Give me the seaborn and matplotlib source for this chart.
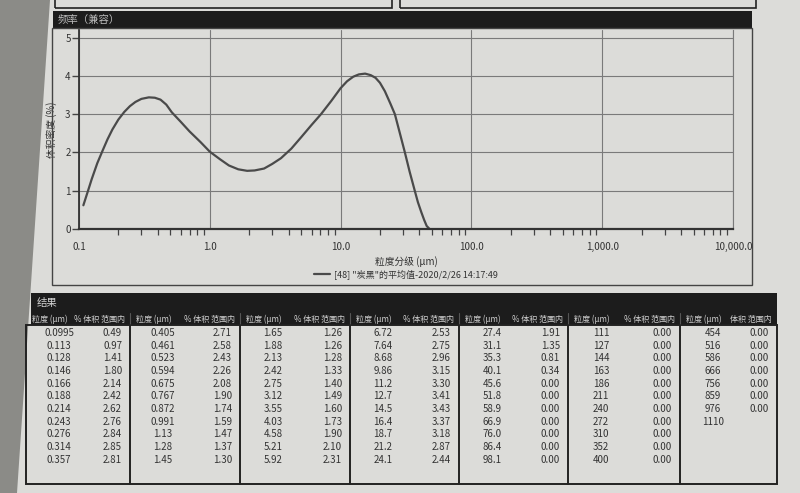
import matplotlib
matplotlib.use("Agg")
from matplotlib import pyplot as plt
from matplotlib.patches import Rectangle, Polygon
from matplotlib.ticker import FixedLocator, NullFormatter
import seaborn as sns
import pandas as pd

# frequency curve (size in um, volume density in %)
curve_size = [0.108, 0.116, 0.125, 0.138, 0.152, 0.165, 0.18, 0.2, 0.222, 0.245, 0.27, 0.3,
              0.342, 0.38, 0.42, 0.465, 0.512, 0.6, 0.7, 0.85,
              1.0, 1.2, 1.4, 1.65, 1.93, 2.2, 2.6, 3.0, 3.5, 4.2, 5.0, 6.0, 7.08, 8.5,
              10.0, 11.2, 12.5, 13.8, 15.4, 17.0, 18.5, 20.0, 21.8, 24.0, 26.0, 28.3,
              30.9, 33.7, 36.9, 39.0, 41.4, 43.5, 45.5, 47.9]
curve_density = [0.62, 0.95, 1.30, 1.72, 2.06, 2.34, 2.60, 2.86, 3.06, 3.21, 3.32, 3.40,
                 3.44, 3.43, 3.38, 3.25, 3.05, 2.80, 2.55, 2.27,
                 2.02, 1.82, 1.66, 1.56, 1.52, 1.53, 1.58, 1.70, 1.85, 2.10, 2.40, 2.72, 3.00, 3.35,
                 3.68, 3.86, 3.98, 4.04, 4.06, 4.02, 3.95, 3.82, 3.60, 3.28, 3.00, 2.52,
                 2.02, 1.50, 1.00, 0.70, 0.44, 0.24, 0.08, 0.0]

x_ticks = [0.1, 1.0, 10.0, 100.0, 1000.0, 10000.0]
x_tick_labels = ['0.1', '1.0', '10.0', '100.0', '1,000.0', '10,000.0']
y_ticks = [0, 1, 2, 3, 4, 5]

# result table
size_um = ['0.0995', '0.113', '0.128', '0.146', '0.166', '0.188', '0.214', '0.243', '0.276', '0.314', '0.357',
           '0.405', '0.461', '0.523', '0.594', '0.675', '0.767', '0.872', '0.991', '1.13', '1.28', '1.45',
           '1.65', '1.88', '2.13', '2.42', '2.75', '3.12', '3.55', '4.03', '4.58', '5.21', '5.92',
           '6.72', '7.64', '8.68', '9.86', '11.2', '12.7', '14.5', '16.4', '18.7', '21.2', '24.1',
           '27.4', '31.1', '35.3', '40.1', '45.6', '51.8', '58.9', '66.9', '76.0', '86.4', '98.1',
           '111', '127', '144', '163', '186', '211', '240', '272', '310', '352', '400',
           '454', '516', '586', '666', '756', '859', '976', '1110']
vol_pct = ['0.49', '0.97', '1.41', '1.80', '2.14', '2.42', '2.62', '2.76', '2.84', '2.85', '2.81',
           '2.71', '2.58', '2.43', '2.26', '2.08', '1.90', '1.74', '1.59', '1.47', '1.37', '1.30',
           '1.26', '1.26', '1.28', '1.33', '1.40', '1.49', '1.60', '1.73', '1.90', '2.10', '2.31',
           '2.53', '2.75', '2.96', '3.15', '3.30', '3.41', '3.43', '3.37', '3.18', '2.87', '2.44',
           '1.91', '1.35', '0.81', '0.34', '0.00', '0.00', '0.00', '0.00', '0.00', '0.00', '0.00',
           '0.00', '0.00', '0.00', '0.00', '0.00', '0.00', '0.00', '0.00', '0.00', '0.00', '0.00',
           '0.00', '0.00', '0.00', '0.00', '0.00', '0.00', '0.00']
header_size = '粒度 (μm)'
header_vol = ['% 体积 范围内'] * 6 + ['体积 范围内']

legend_label = '[48] "炭黑"的平均值-2020/2/26 14:17:49'

W, H = 800, 493
PAPER = '#dcdcd9'
INK = '#333333'


def fx(x):
    return x / W


def fy(y):
    return 1 - y / H


def box(fig, x0, y0, x1, y1, **kw):
    # rectangle given in pixel coords (top-left origin)
    fig.add_artist(Rectangle((fx(x0), fy(y1)), fx(x1) - fx(x0), fy(y0) - fy(y1),
                             transform=fig.transFigure, **kw))


def vline(fig, x, y0, y1, **kw):
    fig.add_artist(plt.Line2D([fx(x), fx(x)], [fy(y0), fy(y1)], transform=fig.transFigure, **kw))


sns.set_style("white")
plt.rcParams['font.family'] = ['Noto Sans CJK SC', 'DejaVu Sans']

fig = plt.figure(figsize=(8, 4.93), dpi=100)
fig.patch.set_facecolor(PAPER)

# photo background at the left edge
fig.add_artist(Polygon([(0, 0), (0, 1), (fx(50), 1), (fx(17), 0)], closed=True,
                       transform=fig.transFigure, facecolor='#8b8b87', edgecolor='none'))

# boxes of the previous section at the very top
box(fig, 55, -5, 392, 8, fill=False, edgecolor='#222222', lw=1.2)
box(fig, 400, -5, 756, 8, fill=False, edgecolor='#222222', lw=1.2)

# chart panel
box(fig, 53, 11, 752, 28, facecolor='#1c1c1c', edgecolor='none')
fig.text(fx(58), fy(19.5), '频率（兼容）', color='#bdbdbd', fontsize=7.5, va='center', ha='left')
box(fig, 52, 28, 752, 285, fill=False, edgecolor='#444444', lw=1.0)

ax = fig.add_axes([fx(79), fy(229), fx(733) - fx(79), fy(30) - fy(229)])
ax.set_facecolor(PAPER)

df = pd.DataFrame({'size': curve_size, 'density': curve_density})
sns.lineplot(ax=ax, data=df, x='size', y='density', color='#4a4a4a', lw=1.6, label=legend_label)

ax.set_xscale('log')
ax.set_xlim(0.1, 10000)
ax.set_ylim(0, 5.2)
ax.set_xticks(x_ticks)
ax.set_xticklabels(x_tick_labels)
ax.xaxis.set_minor_locator(FixedLocator([m * d for d in x_ticks[:-1] for m in range(2, 10)]))
ax.xaxis.set_minor_formatter(NullFormatter())
ax.set_yticks(y_ticks)
ax.tick_params(axis='x', which='major', direction='out', length=5, width=1.0, color='#444444',
               labelsize=7, labelcolor=INK, pad=4)
ax.tick_params(axis='x', which='minor', direction='out', length=4, width=0.9, color='#444444', bottom=True)
ax.tick_params(axis='y', direction='out', length=5, width=1.0, color='#444444', labelsize=7,
               labelcolor=INK, pad=1, left=True)

ax.grid(True, which='major', axis='both', color='#7a7a7a', lw=0.8)
ax.spines['top'].set_visible(False)
ax.spines['right'].set_color('#7a7a7a')
ax.spines['right'].set_linewidth(0.8)
ax.spines['left'].set_color('#333333')
ax.spines['left'].set_linewidth(1.3)
ax.spines['bottom'].set_color('#333333')
ax.spines['bottom'].set_linewidth(1.6)

ax.set_xlabel('粒度分级 (μm)', fontsize=7, color=INK, labelpad=3)
ax.set_ylabel('体积密度 (%)', fontsize=7, color=INK)
ax.yaxis.set_label_coords(-0.034, 0.5)
ax.legend(loc='upper center', bbox_to_anchor=(0.5, -0.16), frameon=False, fontsize=6.5,
          handlelength=1.8, handletextpad=0.5, labelcolor=INK)

# result table
T_LEFT, T_RIGHT = 26, 777
dividers = [T_LEFT, 130, 240, 350, 459, 568, 680, T_RIGHT]
box(fig, 31, 293, T_RIGHT, 325, facecolor='#1c1c1c', edgecolor='none')
fig.text(fx(37), fy(303), '结果', color='#cfcfcf', fontsize=7.5, va='center', ha='left')
box(fig, T_LEFT, 325, T_RIGHT, 484, fill=False, edgecolor='#222222', lw=1.4)
for x in dividers[1:-1]:
    vline(fig, x, 313, 325, color='#555555', lw=0.8)
    vline(fig, x, 325, 484, color='#222222', lw=1.4)

rows = 11
row_y0, row_step = 333, 12.66
for g in range(7):
    left, right = dividers[g], dividers[g + 1]
    fig.text(fx(left + 6), fy(319), header_size, color='#cfcfcf', fontsize=5.8, va='center', ha='left')
    fig.text(fx(right - 5), fy(319), header_vol[g], color='#cfcfcf', fontsize=5.8, va='center', ha='right')
    for r in range(rows):
        i = g * rows + r
        y = fy(row_y0 + r * row_step)
        if i < len(size_um):
            fig.text(fx(left + 33), y, size_um[i], color=INK, fontsize=7, va='center', ha='center')
        if i < len(vol_pct):
            fig.text(fx(right - 8), y, vol_pct[i], color=INK, fontsize=7, va='center', ha='right')

fig.savefig('out.png', dpi=100, facecolor=fig.get_facecolor())
